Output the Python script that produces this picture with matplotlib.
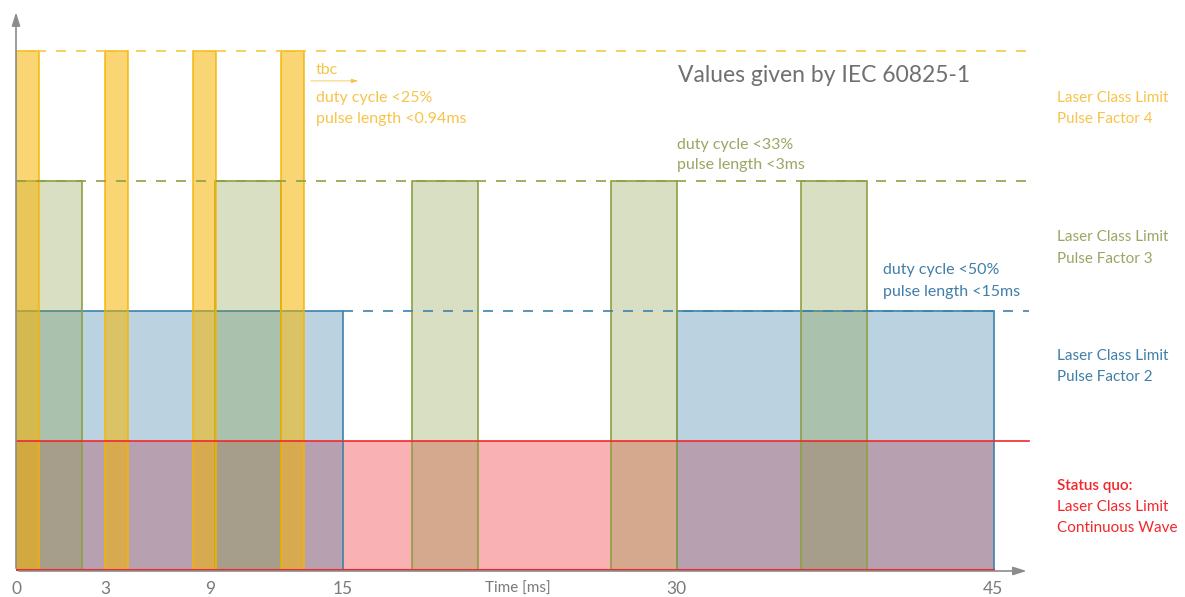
import matplotlib.pyplot as plt
from matplotlib.patches import Rectangle

# schematic time axis (drawing units), levels: 1 = CW, 2..4 = pulse factor
cw_span = (0.0, 45.05)
pf2_starts = [0.0, 30.45]
pf2_widths = [15.06, 14.6]
pf3_starts = [0.0, 9.17, 18.25, 27.4, 36.15]
pf3_width = 3.05
pf4_starts = [0.0, 4.1, 8.15, 12.2]
pf4_width = 1.05
levels = {'cw': 1, 'pf2': 2, 'pf3': 3, 'pf4': 4}

tick_pos = [0, 4.1, 8.94, 15.06, 30.45, 45.0]
tick_labels = ['0', '3', '9', '15', '30', '45']

right_labels = [
    (['Laser Class Limit', 'Pulse Factor 4'], 3.56, '#F7C44A'),
    (['Laser Class Limit', 'Pulse Factor 3'], 2.485, '#9AA764'),
    (['Laser Class Limit', 'Pulse Factor 2'], 1.57, '#3F7FA8'),
    (['Status quo:', 'Laser Class Limit', 'Continuous Wave'], 0.492, '#F2262B'),
]

RED = '#F0282D'
BLUE = '#3C82AA'
GREEN = '#83983A'
YELLOW = '#F5B400'
GRAY = '#8C8C8C'
FONT = ['Lato', 'DejaVu Sans']

fig = plt.figure(figsize=(11.85, 5.97), dpi=100)
ax = fig.add_axes([16 / 1185, 26 / 597, 1020 / 1185, 559 / 597])
ax.set_xlim(0, 47)
ax.set_ylim(0, 4.3)
ax.axis('off')

# continuous wave
ax.add_patch(Rectangle((cw_span[0], 0), cw_span[1] - cw_span[0], levels['cw'],
                       facecolor=RED, alpha=0.36, edgecolor='none'))
ax.plot([0, 46.66], [levels['cw']] * 2, color=RED, lw=1.2)
ax.plot(cw_span, [0.005, 0.005], color=RED, lw=1.5)

# pulse factor 2
for s, w in zip(pf2_starts, pf2_widths):
    ax.add_patch(Rectangle((s, 0), w, levels['pf2'],
                           facecolor=BLUE, alpha=0.35, edgecolor='none'))
    ax.add_patch(Rectangle((s, 0), w, levels['pf2'],
                           facecolor='none', edgecolor=BLUE, lw=1.2))
ax.plot([pf2_starts[0] + pf2_widths[0], 46.7], [levels['pf2']] * 2,
        color=BLUE, lw=1.2, dashes=(6, 6))

# pulse factor 3
for s in pf3_starts:
    ax.add_patch(Rectangle((s, 0), pf3_width, levels['pf3'],
                           facecolor=GREEN, alpha=0.3, edgecolor='none'))
    ax.add_patch(Rectangle((s, 0), pf3_width, levels['pf3'],
                           facecolor='none', edgecolor='#8CA045', lw=1.2))
ax.plot([0, 46.7], [levels['pf3']] * 2, color='#8CA045', lw=1.2, dashes=(6, 6))

# pulse factor 4
for s in pf4_starts:
    ax.add_patch(Rectangle((s, 0), pf4_width, levels['pf4'],
                           facecolor=YELLOW, alpha=0.55, edgecolor='none'))
    ax.add_patch(Rectangle((s, 0), pf4_width, levels['pf4'],
                           facecolor='none', edgecolor=YELLOW, lw=1.2, alpha=0.85))
ax.plot([0, 46.7], [levels['pf4']] * 2, color='#F7C744', lw=1.2, dashes=(6, 6))

# axes arrows
arrow = dict(arrowstyle='-|>,head_length=0.8,head_width=0.25', color=GRAY, lw=1.2)
ax.annotate('', xy=(46.7, 0), xytext=(0, 0), arrowprops=arrow, annotation_clip=False)
ax.annotate('', xy=(0, 4.32), xytext=(0, 0), arrowprops=arrow, annotation_clip=False)

for p, lab in zip(tick_pos, tick_labels):
    ax.text(p, -0.14, lab, ha='center', va='center', fontsize=12.5,
            color='#7A7A7A', family=FONT, clip_on=False)
ax.text(23.1, -0.14, 'Time [ms]', ha='center', va='center', fontsize=11,
        color='#7A7A7A', family=FONT, clip_on=False)

ax.text(30.5, 3.815, 'Values given by IEC 60825-1', ha='left', va='center',
        fontsize=16.5, color='#707070', family=FONT)

# annotations
note = dict(ha='left', va='center', fontsize=11.5, family=FONT)
ax.text(13.82, 3.855, 'tbc', color='#F7C44A', **note)
ax.annotate('', xy=(15.9, 3.77), xytext=(13.45, 3.77),
            arrowprops=dict(arrowstyle='-|>,head_length=0.4,head_width=0.12',
                            color='#F7C44A', lw=0.6))
ax.text(13.82, 3.64, 'duty cycle <25%', color='#F7C44A', **note)
ax.text(13.82, 3.48, 'pulse length <0.94ms', color='#F7C44A', **note)
ax.text(30.45, 3.28, 'duty cycle <33%', color='#9AA764', **note)
ax.text(30.45, 3.12, 'pulse length <3ms', color='#9AA764', **note)
ax.text(39.94, 2.315, 'duty cycle <50%', color='#3F7FA8', **note)
ax.text(39.94, 2.146, 'pulse length <15ms', color='#3F7FA8', **note)

# right-hand labels
for lines, yc, col in right_labels:
    n = len(lines)
    for i, line in enumerate(lines):
        bold = line.endswith(':')
        ax.text(47.95, yc + (n - 1) / 2 * 0.163 - i * 0.163, line, ha='left',
                va='center', fontsize=11, color=col, family=FONT,
                fontweight='semibold' if bold else 'normal', clip_on=False)

fig.savefig('out.png', dpi=100)
